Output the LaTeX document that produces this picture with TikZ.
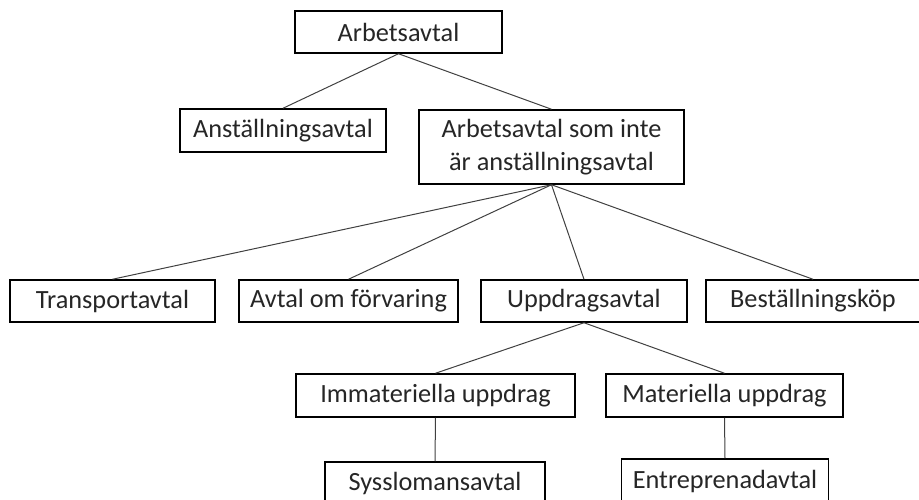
\documentclass[tikz,border=0pt]{standalone}
\usepackage{fontspec}
\setmainfont{Carlito}
\begin{document}
\begin{tikzpicture}[x=1pt,y=-1pt,
  box/.style={draw=black,line width=1.5pt,fill=white,inner sep=0pt,align=center,
    font=\fontsize{26.3}{33}\selectfont,text=black!85},
  conn/.style={draw=black!75,line width=1pt}]
\useasboundingbox (0,0) rectangle (919,500);
\clip (0,0) rectangle (919,500);
\node[box,minimum width=207pt,minimum height=42pt] (A) at (398.5,32) {Arbetsavtal};
\node[box,minimum width=206pt,minimum height=43pt] (B) at (283,130.5) {Anställningsavtal};
\node[box,minimum width=265pt,minimum height=74pt] (C) at (551.5,147) {Arbetsavtal som inte\\är anställningsavtal};
\node[box,minimum width=205pt,minimum height=42pt] (D) at (112.5,301) {Transportavtal};
\node[box,minimum width=219pt,minimum height=42pt] (E) at (348.5,301) {Avtal om förvaring};
\node[box,minimum width=206pt,minimum height=42pt] (F) at (584,301) {Uppdragsavtal};
\node[box,minimum width=214pt,minimum height=42pt] (G) at (813,301) {Beställningsköp};
\node[box,minimum width=279pt,minimum height=43pt] (H) at (435.5,395.5) {Immateriella uppdrag};
\node[box,minimum width=237pt,minimum height=43pt] (I) at (724.5,395.5) {Materiella uppdrag};
\node[box,minimum width=220pt,minimum height=42pt] (J) at (435,483) {Sysslomansavtal};
\node[box,minimum width=207pt,minimum height=44pt] (K) at (725,481) {Entreprenadavtal};
\draw[conn] (A.south) -- (B.north);
\draw[conn] (A.south) -- (C.north);
\draw[conn] (C.south) -- (D.north);
\draw[conn] (C.south) -- (E.north);
\draw[conn] (C.south) -- (F.north);
\draw[conn] (C.south) -- (G.north);
\draw[conn] (F.south) -- (H.north);
\draw[conn] (F.south) -- (I.north);
\draw[conn] (H.south) -- (J.north);
\draw[conn] (I.south) -- (K.north);
\end{tikzpicture}
\end{document}
